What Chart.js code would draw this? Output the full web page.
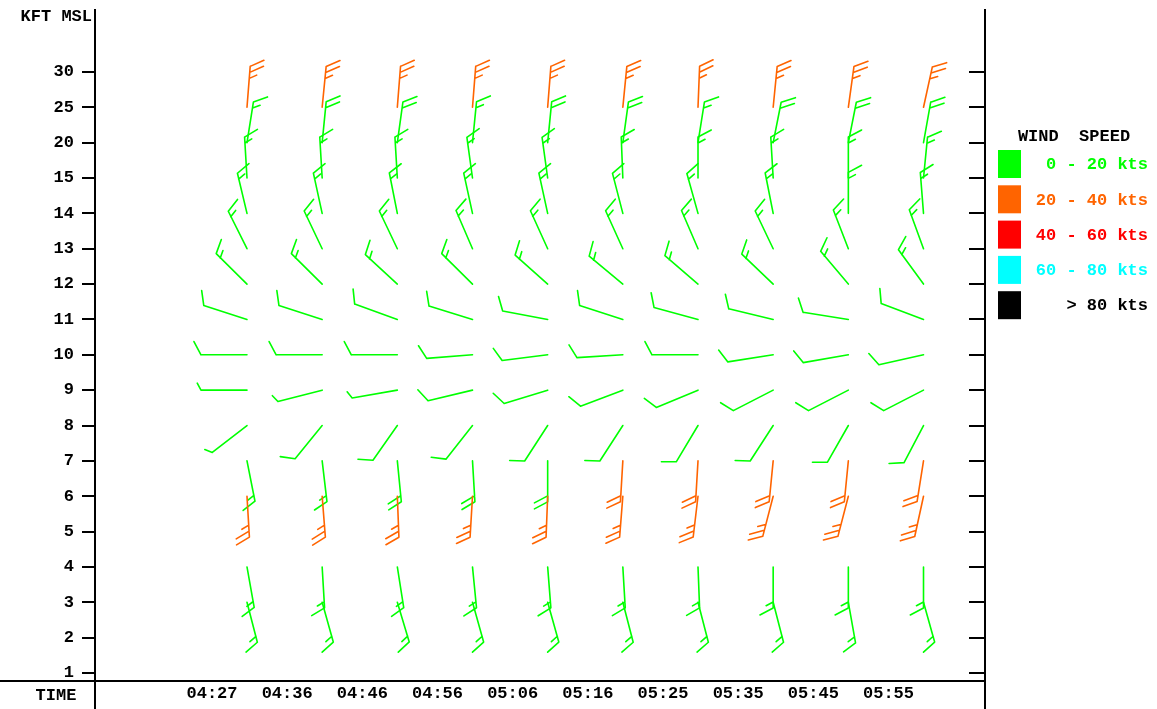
<!DOCTYPE html>
<html>
<head>
<meta charset="utf-8">
<script src="https://cdn.jsdelivr.net/npm/chart.js@4.4.1/dist/chart.umd.min.js"></script>
<style>
body { margin: 0; background: #fff; }
#wrap { width: 1157px; height: 709px; }
</style>
</head>
<body>
<div id="wrap"><canvas id="myChart" width="1157" height="709"></canvas></div>
<script>
const times = ['04:27', '04:36', '04:46', '04:56', '05:06', '05:16', '05:25', '05:35', '05:45', '05:55'];
const levels = ['1', '2', '3', '4', '5', '6', '7', '8', '9', '10', '11', '12', '13', '14', '15', '20', '25', '30'];

// direction the wind blows from (deg) and speed (kts), one value per time
const dir25 = [4, 5, 4, 4, 4, 5, 2, 5, 7, 11];
const spd25 = [24, 25, 25, 24, 25, 25, 24, 25, 25, 26];
const dir20 = [8, 5, 7, 5, 5, 7, 8, 10, 10, 9];
const spd20 = [17, 18, 18, 17, 18, 18, 17, 18, 18, 18];
const dir15 = [357, 357, 357, 353, 353, 358, 0, 357, 0, 5];
const spd15 = [14, 14, 14, 14, 14, 14, 14, 14, 14, 14];
const dir14 = [348, 349, 350, 349, 349, 347, 346, 350, 0, 356];
const spd14 = [13, 13, 13, 13, 13, 13, 13, 13, 13, 13];
const dir13 = [336, 337, 337, 339, 338, 338, 339, 337, 341, 342];
const spd13 = [14, 14, 14, 14, 14, 14, 14, 14, 14, 14];
const dir12 = [318, 318, 316, 318, 315, 313, 314, 317, 323, 327];
const spd12 = [14, 14, 14, 14, 14, 14, 14, 14, 14, 14];
const dir11 = [290, 290, 292, 289, 282, 290, 287, 285, 280, 293];
const spd11 = [10, 10, 10, 10, 10, 10, 10, 10, 10, 10];
const dir10 = [270, 270, 270, 265, 262, 266, 270, 260, 259, 256];
const spd10 = [10, 10, 10, 10, 10, 10, 10, 10, 10, 10];
const dir9 = [270, 254, 259, 255, 251, 247, 245, 240, 240, 240];
const spd9 = [5, 5, 5, 9, 9, 10, 10, 10, 10, 10];
const dir8 = [229, 216, 212, 215, 210, 210, 208, 210, 207, 205];
const spd8 = [6, 10, 10, 10, 11, 10, 10, 11, 10, 10];
const dir7 = [170, 174, 175, 177, 180, 183, 183, 185, 185, 188];
const spd7 = [17, 17, 18, 18, 18, 21, 22, 22, 22, 22];
const dir6 = [177, 176, 178, 183, 182, 184, 186, 193, 193, 191];
const spd6 = [25, 25, 25, 25, 25, 25, 25, 25, 25, 25];
const dir4 = [171, 177, 172, 175, 176, 177, 178, 180, 180, 180];
const spd4 = [17, 17, 17, 17, 17, 17, 17, 15, 15, 17];
const dir3 = [167, 166, 165, 166, 166, 167, 167, 167, 171, 166];
const spd3 = [15, 15, 15, 15, 15, 15, 15, 15, 15, 15];

const rows = [
  ['25', dir25, spd25], ['20', dir20, spd20], ['15', dir15, spd15], ['14', dir14, spd14],
  ['13', dir13, spd13], ['12', dir12, spd12], ['11', dir11, spd11], ['10', dir10, spd10],
  ['9', dir9, spd9], ['8', dir8, spd8], ['7', dir7, spd7], ['6', dir6, spd6],
  ['4', dir4, spd4], ['3', dir3, spd3]
];

const speedBins = ['0 - 20 kts', '20 - 40 kts', '40 - 60 kts', '60 - 80 kts', '> 80 kts'];
const binColors = ['#00ff00', '#ff6400', '#ff0000', '#00ffff', '#000000'];

const FONT = 'Liberation Mono, Courier New, monospace';

let points = [];
for (let r = 0; r < rows.length; r++) {
    let lvl = levels.indexOf(rows[r][0]);
    for (let i = 0; i < times.length; i++) {
        points.push({ x: i, y: lvl, dir: rows[r][1][i], spd: rows[r][2][i] });
    }
}

function colorFor(spd) {
    return binColors[Math.min(4, Math.floor(spd / 20))];
}

function drawBarb(ctx, x, y, dir, spd) {
    const staffX = 46, staffY = 41, fullLen = 15, halfLen = 8, gap = 6;
    const a = dir * Math.PI / 180;
    const ux = Math.sin(a), uy = -Math.cos(a);
    const tx = x + ux * staffX, ty = y + uy * staffY;
    const b = 62 * Math.PI / 180;
    const fx = ux * Math.cos(b) - uy * Math.sin(b);
    const fy = ux * Math.sin(b) + uy * Math.cos(b);
    const n = Math.round(spd / 5);
    const full = Math.floor(n / 2), half = n % 2;

    ctx.strokeStyle = colorFor(spd);
    ctx.beginPath();
    ctx.moveTo(x, y);
    ctx.lineTo(tx, ty);
    let pos = 0;
    for (let k = 0; k < full; k++) {
        let bx = tx - ux * pos, by = ty - uy * pos;
        ctx.moveTo(bx, by);
        ctx.lineTo(bx + fx * fullLen, by + fy * fullLen);
        pos += gap;
    }
    if (half) {
        let bx = tx - ux * pos, by = ty - uy * pos;
        ctx.moveTo(bx, by);
        ctx.lineTo(bx + fx * halfLen, by + fy * halfLen);
    }
    ctx.stroke();
}

const barbPlugin = {
    id: 'barbs',
    afterDatasetsDraw(chart) {
        const ctx = chart.ctx;
        const meta = chart.getDatasetMeta(0);
        const data = chart.data.datasets[0].data;
        ctx.save();
        ctx.lineWidth = 1.6;
        ctx.lineCap = 'round';
        meta.data.forEach((pt, k) => {
            drawBarb(ctx, pt.x, pt.y, data[k].dir, data[k].spd);
        });
        ctx.restore();
    },
    afterDraw(chart) {
        const ctx = chart.ctx;
        const ca = chart.chartArea;
        const ys = chart.scales.y;
        ctx.save();
        ctx.strokeStyle = '#000';
        ctx.lineWidth = 2;
        ctx.beginPath();
        ctx.moveTo(ca.left, ca.top);
        ctx.lineTo(ca.left, chart.height);
        ctx.moveTo(ca.right, ca.top);
        ctx.lineTo(ca.right, chart.height);
        ctx.moveTo(0, ca.bottom);
        ctx.lineTo(ca.right, ca.bottom);
        ys.ticks.forEach(t => {
            const py = Math.round(ys.getPixelForValue(t.value));
            ctx.moveTo(ca.right - 16, py);
            ctx.lineTo(ca.right, py);
        });
        ctx.stroke();

        ctx.fillStyle = '#000';
        ctx.font = 'bold 17px ' + FONT;
        ctx.textBaseline = 'middle';
        ctx.textAlign = 'right';
        ctx.fillText('KFT MSL', ca.left - 3, 17);
        ctx.textAlign = 'center';
        ctx.fillText('TIME', 56, (ca.bottom + chart.height) / 2 + 1);

        // legend
        const lx = ca.right + 13;
        const rx = chart.width - 9;
        ctx.textAlign = 'center';
        ctx.fillText('WIND  SPEED', (lx + rx) / 2 + 1, 137);
        ctx.textAlign = 'right';
        for (let k = 0; k < speedBins.length; k++) {
            const top = 150 + k * 35.3;
            ctx.fillStyle = binColors[k];
            ctx.fillRect(lx, top, 23, 28);
            ctx.fillStyle = k === 4 ? '#000' : binColors[k];
            ctx.fillText(speedBins[k], rx, top + 15);
        }
        ctx.restore();
    }
};

const ctx = document.getElementById('myChart');
new Chart(ctx, {
    type: 'scatter',
    data: {
        datasets: [{
            data: points,
            pointRadius: 0,
            pointHoverRadius: 0
        }]
    },
    options: {
        responsive: false,
        animation: false,
        events: [],
        layout: { padding: { top: 9, right: 172, left: 0, bottom: 0 } },
        plugins: {
            legend: { display: false },
            tooltip: { enabled: false }
        },
        scales: {
            x: {
                type: 'linear',
                min: -2.022,
                max: 9.818,
                afterBuildTicks: s => { s.ticks = times.map((t, i) => ({ value: i })); },
                afterFit: s => { s.height = 28; s.paddingLeft = 0; s.paddingRight = 0; },
                ticks: {
                    callback: v => times[v],
                    labelOffset: -35,
                    padding: 3,
                    maxRotation: 0,
                    autoSkip: false,
                    color: '#000',
                    font: { family: FONT, size: 17, weight: 'bold' }
                },
                grid: { display: false, drawTicks: false },
                border: { display: false }
            },
            y: {
                type: 'linear',
                min: -0.226,
                max: 18.78,
                afterBuildTicks: s => { s.ticks = levels.map((l, i) => ({ value: i })); },
                afterFit: s => { s.width = 95; s.paddingTop = 0; s.paddingBottom = 0; },
                ticks: {
                    callback: v => levels[v],
                    padding: 8,
                    autoSkip: false,
                    color: '#000',
                    font: { family: FONT, size: 17, weight: 'bold' }
                },
                grid: { drawOnChartArea: false, tickLength: 13, color: '#000', lineWidth: 2 },
                border: { display: false }
            }
        }
    },
    plugins: [barbPlugin]
});
</script>
</body>
</html>
